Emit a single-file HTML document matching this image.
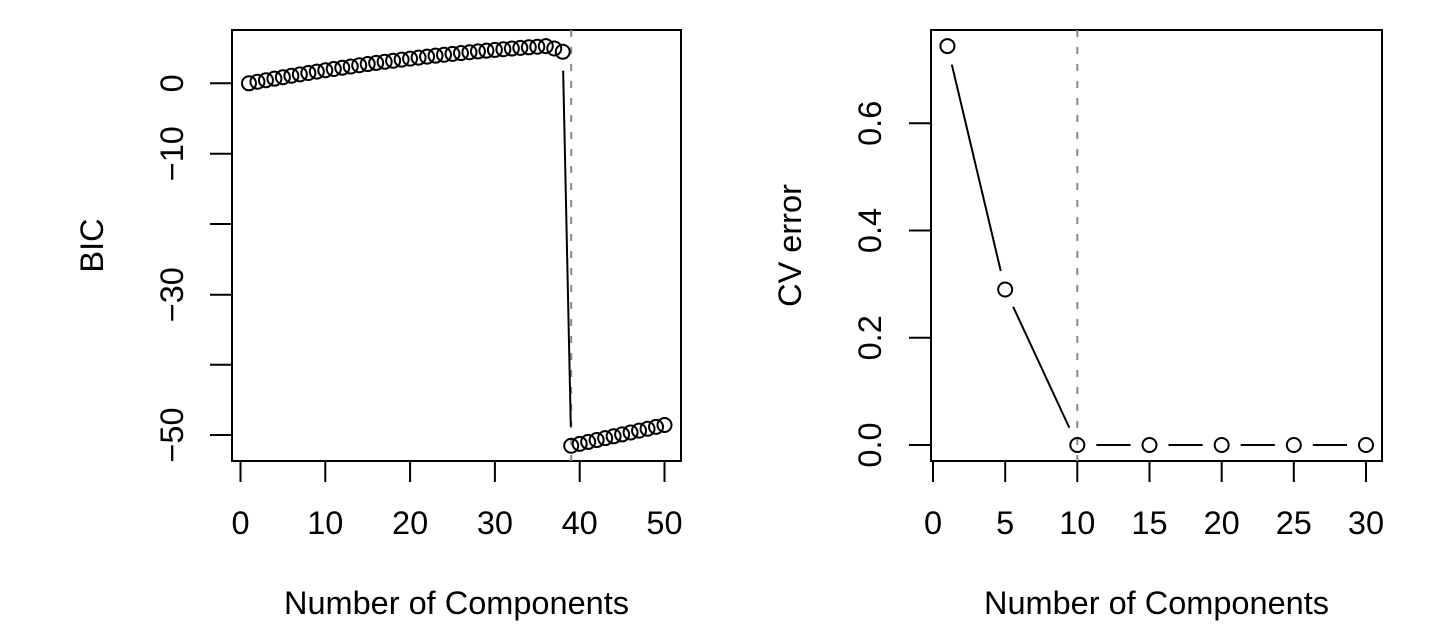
<!DOCTYPE html>
<html><head><meta charset="utf-8"><style>
html,body{margin:0;padding:0;background:#fff;}
svg{display:block;}
text{font-family:"Liberation Sans",Arial,sans-serif;font-size:32.5px;fill:#000;}
</style></head><body>
<svg id="s" width="1441" height="641" viewBox="0 0 1441 641" xmlns="http://www.w3.org/2000/svg">
<rect x="0" y="0" width="1441" height="641" fill="#fff"/>
<rect x="232" y="30" width="449" height="431" fill="none" stroke="#000" stroke-width="2"/>
<line x1="571.2" y1="30" x2="571.2" y2="461" stroke="#888" stroke-width="2" stroke-dasharray="7,10"/>
<g stroke="#000" stroke-width="2">
<line x1="240.5" y1="461" x2="240.5" y2="482"/><line x1="325.3" y1="461" x2="325.3" y2="482"/>
<line x1="410.1" y1="461" x2="410.1" y2="482"/><line x1="494.9" y1="461" x2="494.9" y2="482"/>
<line x1="579.7" y1="461" x2="579.7" y2="482"/><line x1="664.5" y1="461" x2="664.5" y2="482"/>
<line x1="210" y1="83.3" x2="232" y2="83.3"/><line x1="210" y1="153.7" x2="232" y2="153.7"/>
<line x1="210" y1="224" x2="232" y2="224"/><line x1="210" y1="294.7" x2="232" y2="294.7"/>
<line x1="210" y1="364.7" x2="232" y2="364.7"/><line x1="210" y1="435" x2="232" y2="435"/>
</g>
<g text-anchor="middle">
<text x="240.5" y="534">0</text><text x="325.3" y="534">10</text><text x="410.1" y="534">20</text>
<text x="494.9" y="534">30</text><text x="579.7" y="534">40</text><text x="664.5" y="534">50</text>
<text x="456.5" y="614">Number of Components</text>
<text transform="translate(183,83.3) rotate(-90)">0</text>
<text transform="translate(183,153.7) rotate(-90)">−10</text>
<text transform="translate(183,294.7) rotate(-90)">−30</text>
<text transform="translate(183,435) rotate(-90)">−50</text>
<text transform="translate(103,245.5) rotate(-90)">BIC</text>
</g>
<g id="lp" fill="none" stroke="#000" stroke-width="2"></g>
<rect x="931" y="30" width="451" height="431" fill="none" stroke="#000" stroke-width="2"/>
<line x1="1077.3" y1="30" x2="1077.3" y2="461" stroke="#888" stroke-width="2" stroke-dasharray="7,10"/>
<g stroke="#000" stroke-width="2">
<line x1="933" y1="461" x2="933" y2="482"/><line x1="1005.2" y1="461" x2="1005.2" y2="482"/>
<line x1="1077.3" y1="461" x2="1077.3" y2="482"/><line x1="1149.5" y1="461" x2="1149.5" y2="482"/>
<line x1="1221.7" y1="461" x2="1221.7" y2="482"/><line x1="1293.8" y1="461" x2="1293.8" y2="482"/>
<line x1="1366" y1="461" x2="1366" y2="482"/>
<line x1="909" y1="445" x2="931" y2="445"/><line x1="909" y1="337.8" x2="931" y2="337.8"/>
<line x1="909" y1="230.5" x2="931" y2="230.5"/><line x1="909" y1="123.3" x2="931" y2="123.3"/>
</g>
<g text-anchor="middle">
<text x="933" y="534">0</text><text x="1005.2" y="534">5</text><text x="1077.3" y="534">10</text>
<text x="1149.5" y="534">15</text><text x="1221.7" y="534">20</text><text x="1293.8" y="534">25</text>
<text x="1366" y="534">30</text>
<text x="1156.5" y="614">Number of Components</text>
<text transform="translate(881,445) rotate(-90)">0.0</text>
<text transform="translate(881,337.8) rotate(-90)">0.2</text>
<text transform="translate(881,230.5) rotate(-90)">0.4</text>
<text transform="translate(881,123.3) rotate(-90)">0.6</text>
<text transform="translate(801,245.5) rotate(-90)">CV error</text>
</g>
<g id="rp" fill="none" stroke="#000" stroke-width="2"></g>
</svg>
<script>
var NS="http://www.w3.org/2000/svg";
function el(g,t,a){var e=document.createElementNS(NS,t);for(var k in a)e.setAttribute(k,a[k]);g.appendChild(e);}
function draw(g,pts){
  for(var i=0;i<pts.length-1;i++){
    var a=pts[i],b=pts[i+1],dx=b[0]-a[0],dy=b[1]-a[1],d=Math.sqrt(dx*dx+dy*dy),gap=19;
    if(d>2*gap){el(g,"line",{x1:a[0]+dx*gap/d,y1:a[1]+dy*gap/d,x2:b[0]-dx*gap/d,y2:b[1]-dy*gap/d});}
  }
  pts.forEach(function(p){el(g,"circle",{cx:p[0],cy:p[1],r:7});});
}
var lp=[];
for(var i=1;i<=50;i++){
  var x=240.5+i*8.48,y;
  if(i<=36){var t=i-1;y=83.3-(1.583*t-0.0149*t*t);}
  else if(i==37)y=48.5;
  else if(i==38)y=51.7;
  else y=445.7-(i-39)*(445.7-425)/11;
  lp.push([x,y]);
}
draw(document.getElementById("lp"),lp);
var xs=[1,5,10,15,20,25,30],ys=[0.744,0.29,0,0,0,0,0],rp=[];
for(var j=0;j<7;j++)rp.push([933+xs[j]*14.433,445-ys[j]*536.2]);
draw(document.getElementById("rp"),rp);
</script>
</body></html>
